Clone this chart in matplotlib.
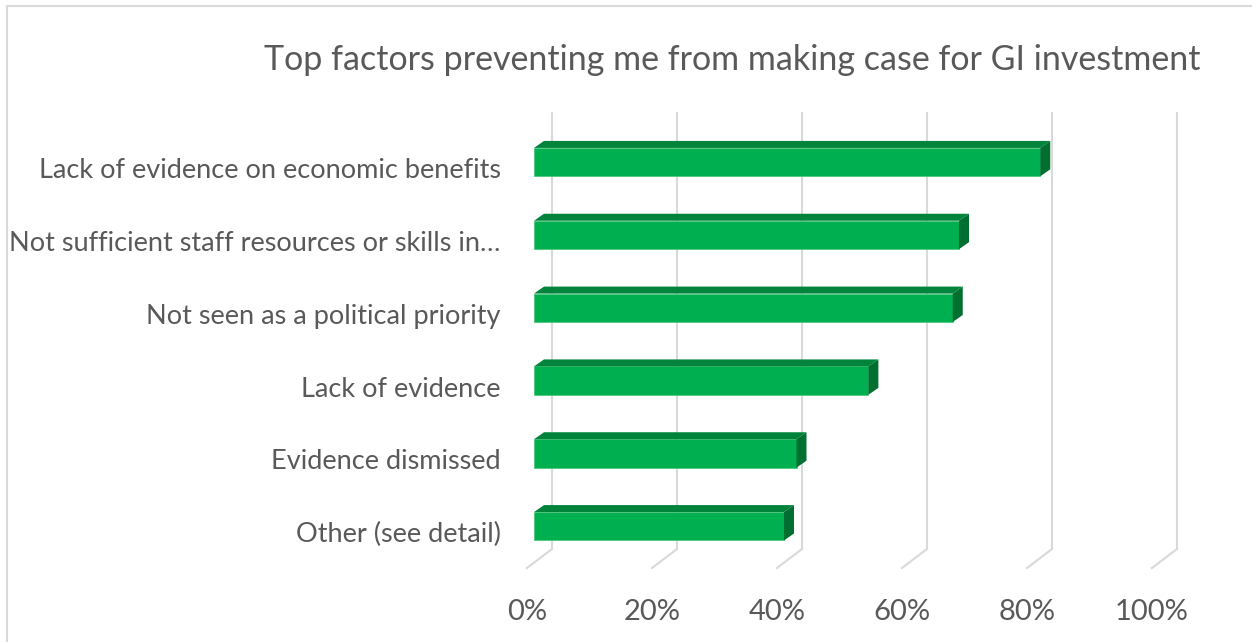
import matplotlib
matplotlib.use('Agg')
import matplotlib.pyplot as plt
from matplotlib.patches import Polygon, Rectangle
from matplotlib.lines import Line2D
from matplotlib.transforms import Affine2D, IdentityTransform

categories = ["Lack of evidence on economic benefits",
              "Not sufficient staff resources or skills in\u2026",
              "Not seen as a political priority",
              "Lack of evidence",
              "Evidence dismissed",
              "Other (see detail)"]
values = [81, 68, 67, 53.5, 42, 40]
tick_values = [0, 20, 40, 60, 80, 100]
tick_labels = ["0%", "20%", "40%", "60%", "80%", "100%"]
title = "Top factors preventing me from making case for GI investment"

W, H = 1252, 642
FONT = ['Lato', 'DejaVu Sans']
TXT = '#595959'
GRID = '#D9D9D9'
FRONT = '#00B050'
TOP = '#00843C'
SIDE = '#006F30'

plt.rcParams['font.family'] = FONT

fig = plt.figure(figsize=(W / 100, H / 100), dpi=100)
ax = fig.add_axes([534 / W, 1 - 562.7 / H, 625 / W, 437 / H])
ax.set_xlim(0, 100)
ax.set_ylim(len(categories) - 0.5, -0.5)
for s in ax.spines.values():
    s.set_visible(False)
ax.patch.set_alpha(0)

# 3D offsets (display pixels)
wall = (18, 13.7)
floor = (-7, -5.3)
bar_depth = (10, 7)

# back wall gridlines + floor lines
wall_tr = ax.transData + Affine2D().translate(*wall)
y_top, y_bot = -0.5, len(categories) - 0.5
for t in tick_values:
    ax.plot([t, t], [y_top, y_bot], color=GRID, lw=1.5, transform=wall_tr,
            clip_on=False, zorder=0, solid_capstyle='butt')
    bx, by = ax.transData.transform((t, y_bot))
    fig.add_artist(Line2D([bx + wall[0], bx + floor[0]], [by + wall[1], by + floor[1]],
                          color=GRID, lw=1.5, transform=IdentityTransform(), zorder=0))

# bars (front faces)
ypos = list(range(len(categories)))
bh = 0.39
ax.barh(ypos, values, height=bh, color=FRONT, edgecolor='#4CC97F', linewidth=0.6, zorder=3)

# top and side faces
dx, dy = bar_depth
for y, v in zip(ypos, values):
    (x0, yt) = ax.transData.transform((0, y - bh / 2))
    (x1, yb) = ax.transData.transform((v, y + bh / 2))
    top = Polygon([(x0, yt), (x1, yt), (x1 + dx, yt + dy), (x0 + dx, yt + dy)],
                  closed=True, facecolor=TOP, edgecolor='none', transform=IdentityTransform(), zorder=3)
    side = Polygon([(x1, yt), (x1 + dx, yt + dy), (x1 + dx, yb + dy), (x1, yb)],
                   closed=True, facecolor=SIDE, edgecolor='none', transform=IdentityTransform(), zorder=3)
    fig.add_artist(top)
    fig.add_artist(side)

# ticks
ax.set_xticks(tick_values, tick_labels)
ax.tick_params(axis='x', length=0, pad=26, labelsize=21, labelcolor=TXT)
for lab in ax.get_xticklabels():
    lab.set_transform(lab.get_transform() + Affine2D().translate(floor[0], 0))
ax.set_yticks(ypos, categories)
ax.tick_params(axis='y', length=0, pad=24, labelsize=19.5, labelcolor=TXT)
for lab in ax.get_yticklabels():
    lab.set_transform(lab.get_transform() + Affine2D().translate(0, -6))

# title
fig.text(732 / W, 1 - 70 / H, title, ha='center', va='baseline', fontsize=24.5, color=TXT)

# chart border
fig.add_artist(Rectangle((7 / W, -0.1), 1.2, 1 - 6 / H + 0.1, transform=fig.transFigure,
                         fill=False, edgecolor=GRID, lw=1.5, clip_on=False))

fig.savefig('out.png', dpi=100)
